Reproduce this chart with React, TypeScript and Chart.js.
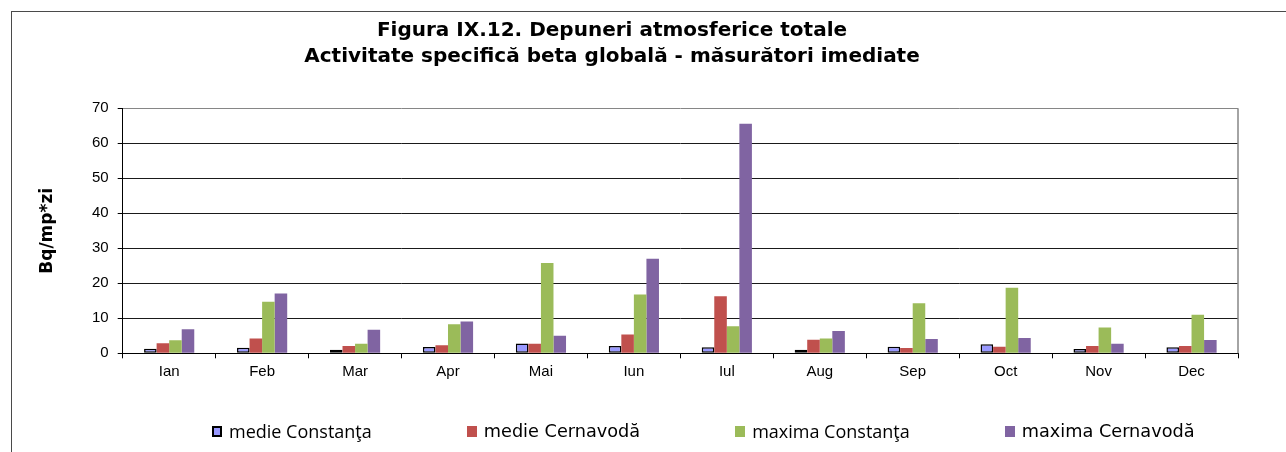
import React, { useEffect, useRef } from "react";
import { Chart, registerables } from "chart.js";

Chart.register(...registerables);

// ---- data ----
const MONTHS = ["Ian", "Feb", "Mar", "Apr", "Mai", "Iun", "Iul", "Aug", "Sep", "Oct", "Nov", "Dec"];
const MEDIE_CONSTANTA = [1.3, 1.6, 1.0, 1.8, 2.8, 2.1, 1.7, 1.0, 1.9, 2.6, 1.2, 1.7];
const MEDIE_CERNAVODA = [2.9, 4.2, 2.1, 2.3, 2.7, 5.4, 16.3, 3.9, 1.5, 1.9, 2.1, 2.1];
const MAXIMA_CONSTANTA = [3.7, 14.7, 2.7, 8.3, 25.8, 16.8, 7.7, 4.2, 14.3, 18.7, 7.4, 11.0];
const MAXIMA_CERNAVODA = [6.9, 17.1, 6.7, 9.1, 5.0, 27.0, 65.6, 6.4, 4.1, 4.4, 2.7, 3.8];
const SERIES_NAMES = ["medie Constanţa", "medie Cernavodă", "maxima Constanţa", "maxima Cernavodă"];
const Y_MIN = 0;
const Y_MAX = 70;
const Y_STEP = 10;
const TITLE_LINES = [
  "Figura IX.12. Depuneri atmosferice totale",
  "Activitate specifică beta globală - măsurători imediate",
];
const Y_TITLE = "Bq/mp*zi";

// ---- styles ----
const SERIES_COLORS = ["#9999FF", "#C0504D", "#9BBB59", "#8064A2"];
const SERIES_BORDER = [1.5, 0, 0, 0];
const LEGEND_FONTS = ['"Open Sans", sans-serif', '"DejaVu Sans", sans-serif', '"Open Sans", sans-serif', '"DejaVu Sans", sans-serif'];
const LEGEND_SIZES = [18, 17.7, 18, 17.7];
const SERIES_VALUES = [MEDIE_CONSTANTA, MEDIE_CERNAVODA, MAXIMA_CONSTANTA, MAXIMA_CERNAVODA];

const SHIFT = 14; // canvas offset to the left

export default function App() {
  const canvasRef = useRef<HTMLCanvasElement>(null);

  useEffect(() => {
    const canvas = canvasRef.current;
    if (!canvas) return;

    const plotFrame = {
      id: "plotFrame",
      beforeDatasetsDraw(chart: any) {
        const { ctx, chartArea } = chart;
        ctx.save();
        ctx.strokeStyle = "#868686";
        ctx.lineWidth = 1.5;
        ctx.beginPath();
        ctx.moveTo(chartArea.right, chartArea.top);
        ctx.lineTo(chartArea.right, chartArea.bottom);
        ctx.stroke();
        ctx.restore();
      },
    };

    const chart = new Chart(canvas, {
      type: "bar",
      data: {
        labels: MONTHS,
        datasets: SERIES_NAMES.map((name, i) => ({
          label: name,
          data: SERIES_VALUES[i],
          backgroundColor: SERIES_COLORS[i],
          borderColor: "#000000",
          borderWidth: SERIES_BORDER[i],
          borderSkipped: false,
          categoryPercentage: 0.54,
          barPercentage: 1,
        })),
      },
      options: {
        responsive: false,
        animation: false,
        devicePixelRatio: 1,
        layout: { padding: { left: 0, right: 48, top: 0, bottom: 68.7 } },
        plugins: {
          legend: { display: false },
          tooltip: { enabled: false },
          title: {
            display: true,
            text: TITLE_LINES,
            color: "#000000",
            font: { family: "DejaVu Sans", size: 20, weight: "bold", lineHeight: 1.335 },
            padding: { top: 17, bottom: 37.9 },
          },
        },
        scales: {
          x: {
            grid: {
              display: true,
              drawOnChartArea: false,
              drawTicks: true,
              tickLength: 5,
              color: "#000000",
              offset: true,
            },
            border: { color: "#000000", width: 1 },
            ticks: {
              color: "#000000",
              font: { family: "Liberation Sans", size: 15 },
              padding: 5,
              maxRotation: 0,
              autoSkip: false,
            },
            afterFit: (s: any) => {
              s.height = 30;
            },
          },
          y: {
            min: Y_MIN,
            max: Y_MAX,
            ticks: {
              stepSize: Y_STEP,
              color: "#000000",
              font: { family: "Liberation Sans", size: 15 },
              padding: 9,
            },
            grid: {
              color: (c: any) => (c.tick && c.tick.value === Y_MAX ? "#868686" : "#1a1a1a"),
              tickColor: "#000000",
              tickLength: 5,
              lineWidth: 1,
            },
            border: { color: "#000000", width: 1 },
            title: {
              display: true,
              text: Y_TITLE,
              color: "#000000",
              font: { family: "DejaVu Sans", size: 17, weight: "bold" },
              padding: { top: 51, bottom: 0 },
            },
            afterFit: (s: any) => {
              s.width = 136.7;
            },
          },
        },
      },
      plugins: [plotFrame],
    });

    return () => chart.destroy();
  }, []);

  return (
    <div style={{ position: "absolute", left: 0, top: 0, width: 1286, height: 452, overflow: "hidden", background: "#fff" }}>
      <div
        style={{
          position: "absolute",
          left: 11,
          top: 11,
          width: 1275,
          height: 441,
          boxSizing: "border-box",
          borderTop: "1px solid #4a4a4a",
          borderLeft: "1px solid #4a4a4a",
        }}
      />
      <canvas
        ref={canvasRef}
        width={1286 + SHIFT}
        height={452}
        style={{ position: "absolute", left: -SHIFT, top: 0 }}
      />
      <div
        style={{
          position: "absolute",
          left: 212,
          top: 421,
          height: 20,
          display: "flex",
          alignItems: "center",
          gap: 95,
          whiteSpace: "nowrap",
        }}
      >
        {SERIES_NAMES.map((name, i) => (
          <div key={name} style={{ display: "flex", alignItems: "center" }}>
            <span
              style={{
                display: "inline-block",
                width: 10,
                height: 11,
                boxSizing: "border-box",
                background: SERIES_COLORS[i],
                border: SERIES_BORDER[i] ? "2px solid #000" : "none",
                marginRight: 7,
              }}
            />
            <span style={{ fontFamily: LEGEND_FONTS[i], fontSize: LEGEND_SIZES[i], lineHeight: "20px", color: "#000" }}>{name}</span>
          </div>
        ))}
      </div>
    </div>
  );
}
